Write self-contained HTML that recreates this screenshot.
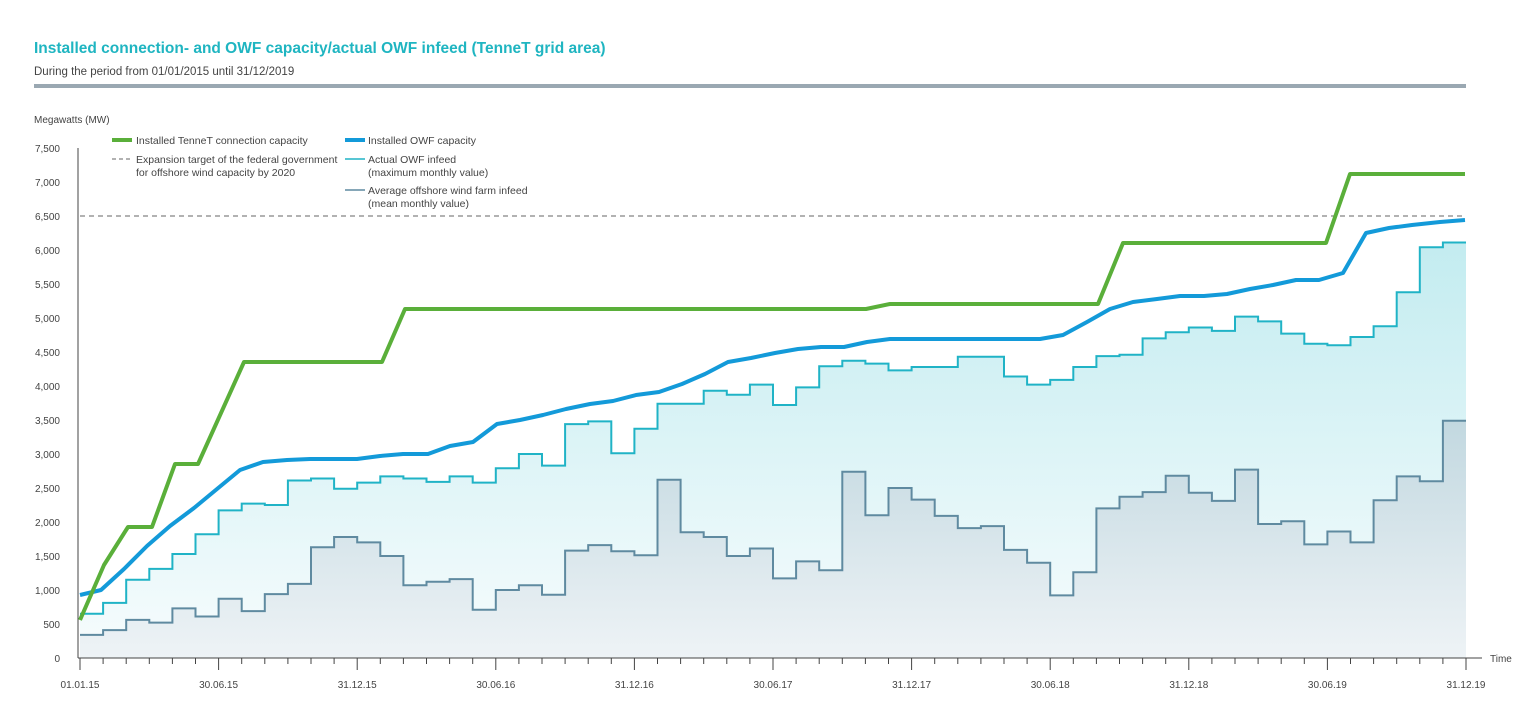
<!DOCTYPE html>
<html><head><meta charset="utf-8"><style>
body{margin:0;background:#fff;width:1536px;height:714px;overflow:hidden;font-family:"Liberation Sans",sans-serif}
</style></head><body>
<svg id="s" width="1536" height="714" xmlns="http://www.w3.org/2000/svg" font-family="Liberation Sans, sans-serif">
<defs>
<linearGradient id="g1" x1="0" y1="0" x2="0" y2="1"><stop offset="0" stop-color="#c3ecf0"/><stop offset="1" stop-color="#f7fcfd"/></linearGradient>
<linearGradient id="g2" x1="0" y1="0" x2="0" y2="1"><stop offset="0" stop-color="#c2d8e0"/><stop offset="1" stop-color="#eef3f6"/></linearGradient>
</defs>
<text x="34" y="53" font-size="15.5" font-weight="bold" fill="#1fb5c1">Installed connection- and OWF capacity/actual OWF infeed (TenneT grid area)</text>
<text x="34" y="75" font-size="11.5" fill="#444">During the period from 01/01/2015 until 31/12/2019</text>
<rect x="34" y="84" width="1432" height="4" fill="#9aa8b2"/>
<text x="34" y="123" font-size="10" fill="#444">Megawatts (MW)</text>
<g id="plot"></g>
<g font-size="10.5" fill="#444">
<line x1="112" y1="140" x2="132" y2="140" stroke="#5aaf3a" stroke-width="4"/>
<text x="136" y="144">Installed TenneT connection capacity</text>
<line x1="112" y1="159" x2="132" y2="159" stroke="#999" stroke-width="1.5" stroke-dasharray="4,3"/>
<text x="136" y="163">Expansion target of the federal government</text>
<text x="136" y="176">for offshore wind capacity by 2020</text>
<line x1="345" y1="140" x2="365" y2="140" stroke="#139ad9" stroke-width="4"/>
<text x="368" y="144">Installed OWF capacity</text>
<line x1="345" y1="159" x2="365" y2="159" stroke="#20b3c6" stroke-width="1.5"/>
<text x="368" y="163">Actual OWF infeed</text>
<text x="368" y="176">(maximum monthly value)</text>
<line x1="345" y1="190" x2="365" y2="190" stroke="#5f8aa0" stroke-width="1.5"/>
<text x="368" y="194">Average offshore wind farm infeed</text>
<text x="368" y="207">(mean monthly value)</text>
</g>
</svg>
<script>
var X0=80,DX=23.1,Y0=658,K=0.068;
function y(v){return Y0-v*K}
var mx=[650,810,1150,1310,1530,1820,2170,2270,2250,2610,2640,2490,2580,2670,2640,2590,2670,2580,2790,3000,2830,3440,3480,3010,3370,3740,3740,3930,3870,4020,3720,3980,4290,4370,4330,4230,4280,4280,4430,4430,4140,4020,4090,4280,4440,4460,4700,4790,4860,4810,5020,4950,4770,4620,4600,4720,4880,5380,6040,6110];
var av=[340,410,560,520,730,610,870,690,940,1090,1630,1780,1700,1500,1070,1120,1160,710,1000,1070,930,1580,1660,1570,1510,2620,1850,1780,1500,1610,1170,1420,1290,2740,2100,2500,2330,2090,1910,1940,1590,1400,920,1260,2200,2370,2440,2680,2430,2310,2770,1970,2010,1670,1860,1700,2320,2670,2600,3490];
function step(a){var d="";for(var i=0;i<a.length;i++){var x1=X0+DX*i,x2=X0+DX*(i+1);d+=(i?"L":"M")+x1.toFixed(1)+","+y(a[i]).toFixed(1)+"L"+x2.toFixed(1)+","+y(a[i]).toFixed(1);}return d}
var h="";
var s1=step(mx),s2=step(av),xe=X0+DX*60;
h+='<path d="'+s1+'L'+xe+','+Y0+'L'+X0+','+Y0+'Z" fill="url(#g1)"/>';
h+='<path d="'+s2+'L'+xe+','+Y0+'L'+X0+','+Y0+'Z" fill="url(#g2)"/>';
h+='<path d="'+s1+'" fill="none" stroke="#20b3c6" stroke-width="2"/>';
h+='<path d="'+s2+'" fill="none" stroke="#5f8aa0" stroke-width="2"/>';
h+='<line x1="78" y1="148" x2="78" y2="658" stroke="#444" stroke-width="1"/>';
h+='<line x1="78" y1="658" x2="1482" y2="658" stroke="#444" stroke-width="1"/>';
for(var v=0;v<=7500;v+=500){var t=v.toLocaleString('en-US');h+='<text x="60" y="'+(y(v)+4)+'" font-size="10" fill="#444" text-anchor="end">'+t+'</text>';}
for(var i=0;i<=60;i++){var x=X0+DX*i,L=(i%6==0)?12:6;h+='<line x1="'+x+'" y1="658" x2="'+x+'" y2="'+(658+L)+'" stroke="#444"/>';}
var lb=["01.01.15","30.06.15","31.12.15","30.06.16","31.12.16","30.06.17","31.12.17","30.06.18","31.12.18","30.06.19","31.12.19"];
for(var i=0;i<11;i++){h+='<text x="'+(X0+DX*6*i)+'" y="688" font-size="10" fill="#444" text-anchor="middle">'+lb[i]+'</text>';}
h+='<text x="1490" y="662" font-size="10" fill="#444">Time</text>';
h+='<line x1="80" y1="216" x2="1465" y2="216" stroke="#999" stroke-width="1.5" stroke-dasharray="5,4"/>';
var bl=[[80,595],[101,590],[124,569],[147,546],[170,526],[194,508],[217,489],[240,470],[263,462],[287,460],[310,459],[357,459],[380,456],[403,454],[428,454],[450,446],[473,442],[497,424],[520,420],[543,415],[566,409],[590,404],[613,401],[636,395],[659,392],[682,384],[705,374],[728,362],[751,358],[775,353],[798,349],[821,347],[844,347],[867,342],[890,339],[1040,339],[1063,335],[1087,322],[1110,309],[1133,302],[1157,299],[1180,296],[1204,296],[1227,294],[1250,289],[1273,285],[1296,280],[1319,280],[1343,273],[1366,233],[1389,228],[1412,225],[1440,222],[1465,220]];
h+='<polyline points="'+bl.join(" ")+'" fill="none" stroke="#139ad9" stroke-width="4" stroke-linejoin="round"/>';
var gr=[[80,620],[104,565],[128,527],[152,527],[175,464],[198,464],[244,362],[382,362],[405,309],[866,309],[890,304],[1098,304],[1123,243],[1326,243],[1350,174],[1465,174]];
h+='<polyline points="'+gr.join(" ")+'" fill="none" stroke="#5aaf3a" stroke-width="4" stroke-linejoin="round"/>';
document.getElementById("plot").innerHTML=h;
</script>
</body></html>
